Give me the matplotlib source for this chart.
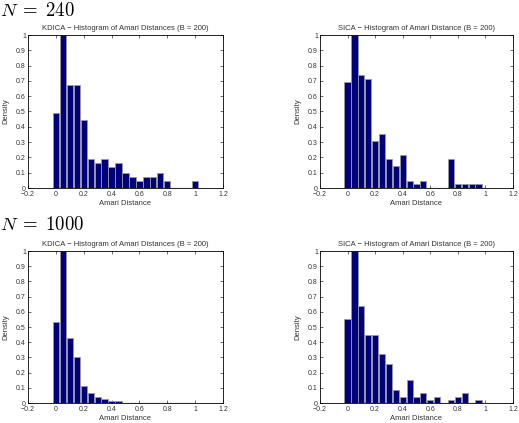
import numpy as np
import matplotlib.pyplot as plt

# bin centres shared by all histograms
centers = np.round(np.arange(0, 1.0001, 0.05), 2)

kdica_240 = [0.49, 1.0, 0.675, 0.675, 0.445, 0.19, 0.165, 0.19, 0.14, 0.165,
             0.095, 0.07, 0.048, 0.07, 0.07, 0.095, 0.048, 0, 0, 0, 0.048]
sica_240 = [0.69, 1.0, 0.74, 0.715, 0.31, 0.355, 0.19, 0.145, 0.215, 0.048,
            0.024, 0.048, 0.003, 0, 0, 0.19, 0.024, 0.024, 0.024, 0.024, 0]
kdica_1000 = [0.53, 1.0, 0.43, 0.305, 0.115, 0.065, 0.04, 0.025, 0.013, 0.013,
              0, 0, 0, 0, 0, 0, 0, 0, 0, 0, 0]
sica_1000 = [0.555, 1.0, 0.64, 0.445, 0.445, 0.32, 0.255, 0.085, 0.04, 0.15,
             0.04, 0.063, 0.02, 0.04, 0, 0.02, 0.04, 0.063, 0, 0.02, 0]

titles = ["KDICA \u2212 Histogram of Amari Distances (B = 200)",
          "SICA \u2212 Histogram of Amari Distance (B = 200)"]
row_labels = ["$N\\;=\\;240$", "$N\\;=\\;1000$"]

plt.rcParams['font.family'] = ['Liberation Sans', 'DejaVu Sans']
plt.rcParams['mathtext.fontset'] = 'cm'

W, H = 519, 423
fig = plt.figure(figsize=(W / 100, H / 100), dpi=100)

# axes boxes in pixels: left, top, right, bottom
boxes = [[(28, 35, 223, 188), (320, 35, 513, 188)],
         [(28, 251, 223, 403), (320, 251, 513, 403)]]
data = [[kdica_240, sica_240], [kdica_1000, sica_1000]]

for r in range(2):
    for c in range(2):
        l, t, rr, b = boxes[r][c]
        ax = fig.add_axes([l / W, 1 - b / H, (rr - l) / W, (b - t) / H])
        ax.bar(centers, data[r][c], width=0.045, color="#00007f",
               edgecolor="#9a9a9a", linewidth=0.6, zorder=2)
        ax.plot([-0.03, 1.0], [0, 0], color="black", lw=0.8, zorder=3)
        ax.set_xlim(-0.2, 1.2)
        ax.set_ylim(0, 1)
        ax.set_xticks(np.arange(-0.2, 1.21, 0.2))
        ax.set_xticklabels(["\u22120.2", "0", "0.2", "0.4", "0.6", "0.8", "1", "1.2"])
        ax.set_yticks(np.arange(0, 1.01, 0.1))
        ax.set_yticklabels(["0", "0.1", "0.2", "0.3", "0.4", "0.5", "0.6",
                            "0.7", "0.8", "0.9", "1"])
        ax.tick_params(direction="in", length=2.5, width=0.5, labelsize=5,
                       top=True, right=True, pad=1.5, colors="#333333")
        ax.tick_params(axis="x", pad=2.5)
        for s in ax.spines.values():
            s.set_linewidth(0.6)
        ax.set_xlabel("Amari Distance", fontsize=5.5, labelpad=1, color="#333333")
        ax.set_ylabel("Density", fontsize=5.5, labelpad=5, color="#333333")
        ax.set_title(titles[c], fontsize=5.5, pad=3.5, color="#333333")
    fig.text(0 / W, 1 - (11 if r == 0 else 225) / H, row_labels[r],
             fontsize=13.5, va="center", ha="left")

fig.savefig("out.png", dpi=100)
